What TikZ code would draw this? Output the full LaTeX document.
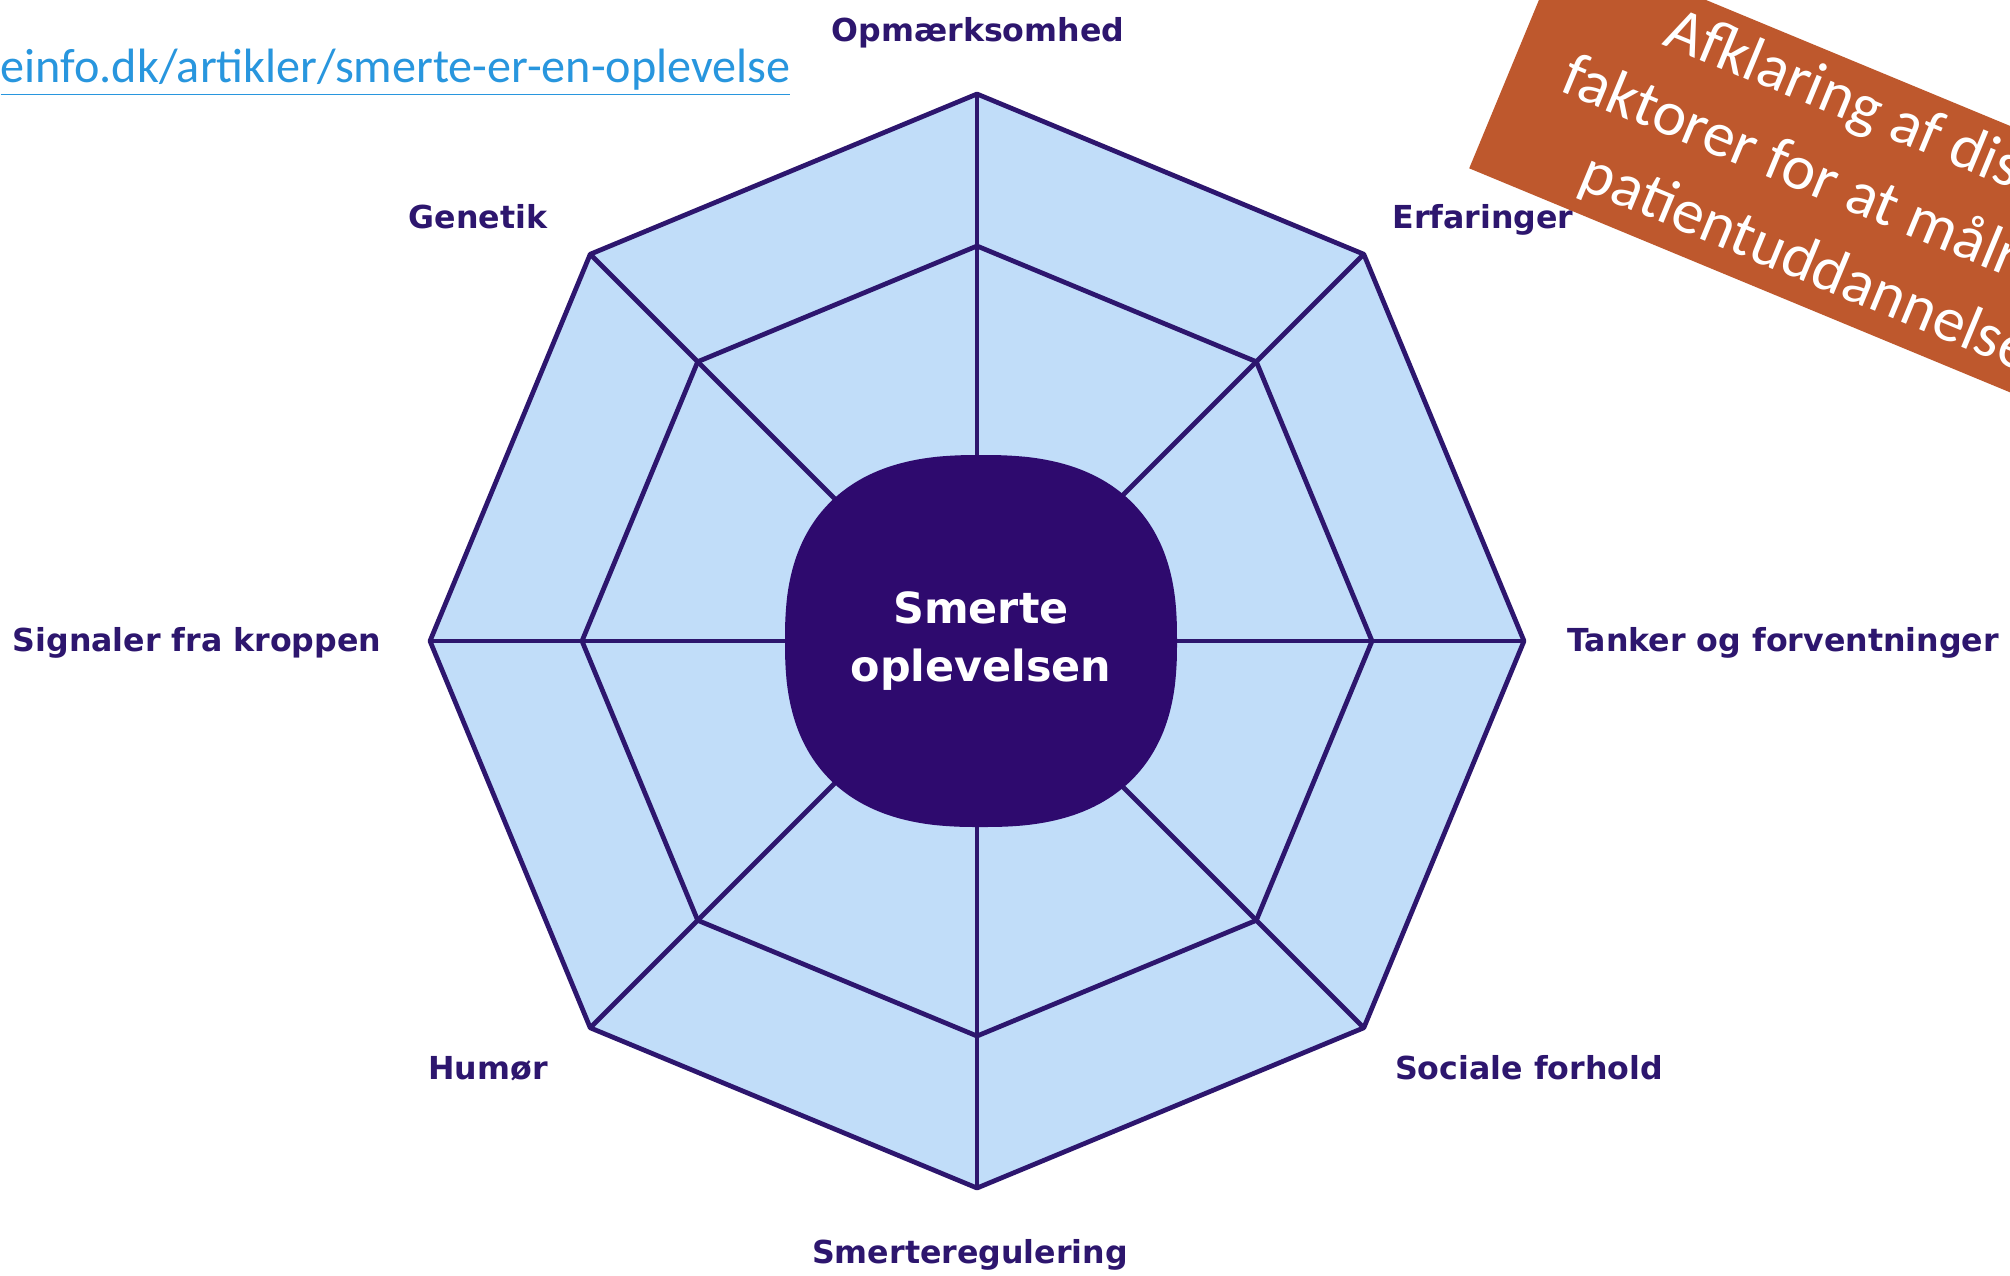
\documentclass[tikz,border=0pt]{standalone}
\usepackage{fontspec}
\setmainfont{DejaVu Sans}
\newfontfamily\linkfont{Carlito}
\usepackage{xcolor}
\usepackage{tikz}
\definecolor{octfill}{RGB}{193,221,249}
\definecolor{octline}{RGB}{45,22,110}
\definecolor{blobfill}{RGB}{46,10,110}
\definecolor{linkblue}{RGB}{40,150,222}
\definecolor{noteorange}{RGB}{190,88,45}
\tikzstyle{web} = [draw=octline,
    line width=1.35pt,
    line join=round]
\tikzstyle{factor} = [text=octline,
    inner sep=0pt,
    anchor=base,
    font=\bfseries\fontsize{9}{11}\selectfont]
\tikzstyle{core} = [inner sep=0pt,
    align=center,
    text=white,
    font=\bfseries\fontsize{12.2}{16.5}\selectfont]
\tikzstyle{note} = [rectangle,
    minimum width=6.96cm,
    minimum height=2.46cm,
    inner sep=0pt,
    align=center,
    fill=noteorange,
    text=white,
    font=\linkfont\fontsize{18}{23.5}\selectfont]

\begin{document}
\begin{tikzpicture}[x=0.01cm, y=-0.01cm]
        \useasboundingbox (0,0) rectangle (2010,1275);
        \clip (0,0) rectangle (2010,1275);
        \fill[white] (0,0) rectangle (2010,1275);

        \coordinate (c) at (977,641);
        \foreach \a [count=\i] in {270,315,0,45,90,135,180,225} {
            \path (c) ++(\a:547) coordinate (o\i);
            \path (c) ++(\a:395) coordinate (n\i);
        }

        \filldraw[web, fill=octfill] (o1) -- (o2) -- (o3) -- (o4) -- (o5) -- (o6) -- (o7) -- (o8) -- cycle;
        \draw[web] (n1) -- (n2) -- (n3) -- (n4) -- (n5) -- (n6) -- (n7) -- (n8) -- cycle;
        \foreach \i in {1,...,8}
            \draw[web] (c) -- (o\i);

        % rounded blob in the middle
        \fill[blobfill] plot[domain=0.5:360.5, samples=121, smooth]
            ({981+196*sign(cos(\x))*abs(cos(\x))^0.8}, {641+186*sign(sin(\x))*abs(sin(\x))^0.8}) -- cycle;
        \node (blob) [core] at (981,641) {Smerte\\oplevelsen};

        \node (opm) [factor] at (978,41) {Opmærksomhed};
        \node (gen) [factor] at (478,228) {Genetik};
        \node (erf) [factor] at (1483,228) {Erfaringer};
        \node (sig) [factor] at (197,651) {Signaler fra kroppen};
        \node (tank) [factor] at (1783,651) {Tanker og forventninger};
        \node (hum) [factor] at (488,1079) {Humør};
        \node (soc) [factor] at (1529,1079) {Sociale forhold};
        \node (reg) [factor] at (970,1263) {Smerteregulering};

        \node (link) [anchor=base west, inner sep=0pt, text=linkblue,
            font=\linkfont\fontsize{13.7}{16}\selectfont] at (0,82)
        {\underline{einfo.dk/artikler/smerte-er-en-oplevelse}};

        \node (aim) [note, rotate=-22.5, anchor=north west] at (1563,-60)
        {Afklaring af disse\\faktorer for at målrette\\patientuddannelse};
    \end{tikzpicture}
\end{document}
